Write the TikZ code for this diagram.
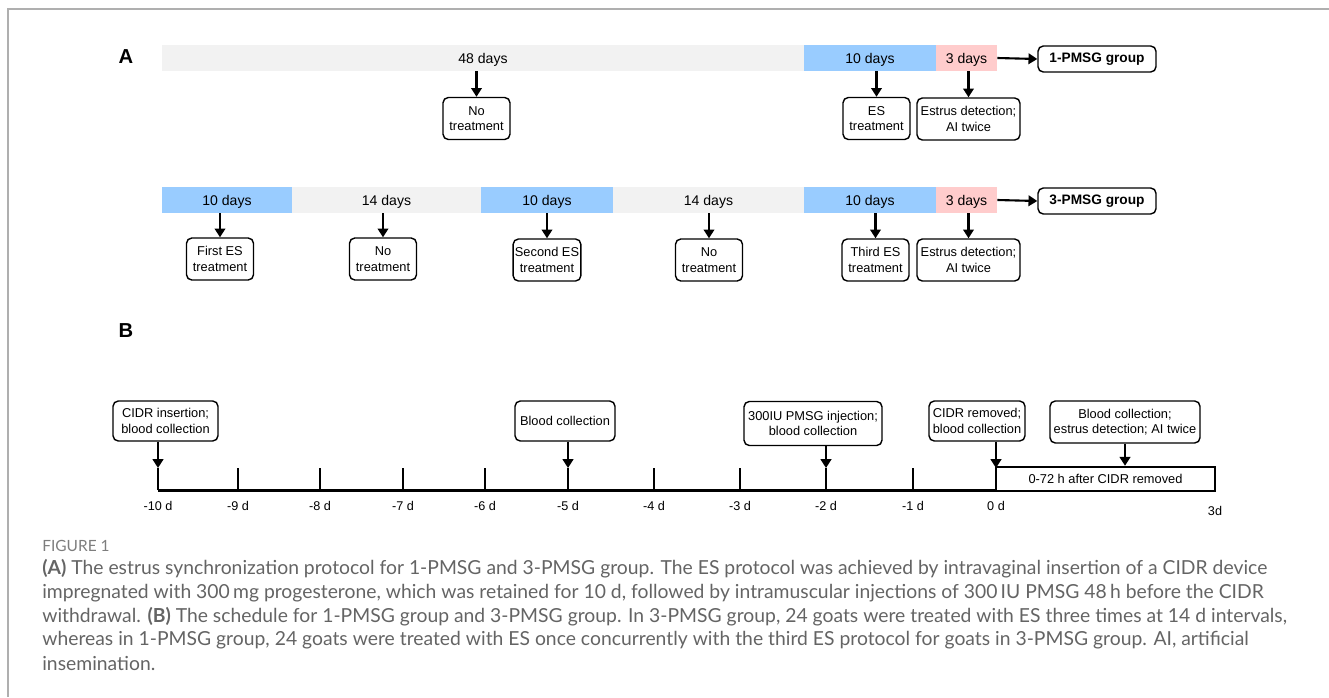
\documentclass[tikz,border=0pt]{standalone}
\usepackage{fontspec}
\setmainfont{Liberation Sans}
\newfontfamily\capfont{Lato}
\usetikzlibrary{arrows.meta}
\definecolor{bar_grey}{RGB}{242,242,242}
\definecolor{bar_blue}{RGB}{153,204,255}
\definecolor{bar_pink}{RGB}{255,204,204}
\definecolor{cap_grey}{RGB}{100,100,100}
\definecolor{fig_grey}{RGB}{125,125,125}
\definecolor{frame_grey}{RGB}{175,175,175}
\tikzstyle{gbar}=[fill=bar_grey,inner sep=0pt,minimum height=0.52cm,text depth=0pt,
  font=\fontsize{8}{9}\selectfont]
\tikzstyle{bbar}=[gbar,fill=bar_blue]
\tikzstyle{pbar}=[gbar,fill=bar_pink]
\tikzstyle{tbox}=[draw=black,rounded corners=3pt,line width=0.8pt,align=center,
  inner sep=1pt,minimum width=1.34cm,minimum height=0.84cm,
  font=\fontsize{7.3}{8.8}\selectfont]
\tikzstyle{gbox}=[tbox,minimum width=2.36cm,minimum height=0.52cm,
  font=\bfseries\fontsize{7.8}{9}\selectfont]
\tikzstyle{arr}=[-{Triangle[length=5pt,width=6pt]},line width=1.2pt]
\tikzstyle{captext}=[anchor=west,inner sep=0pt,text=cap_grey,
  font=\capfont\fontsize{11}{12}\selectfont]
\tikzstyle{none}=[]

\begin{document}
\begin{tikzpicture}[x=0.02cm, y=-0.02cm]
    \useasboundingbox (0,0) rectangle (1329,697);
    \draw [frame_grey, line width=1.1pt] (8,697) -- (8,9) -- (1329,9);
    \node [font=\bfseries\fontsize{11.5}{13}\selectfont] (a) at (126,57) {A};
    \node [font=\bfseries\fontsize{11.5}{13}\selectfont] (b) at (126,331) {B};
    % A: 1-PMSG group
    \node [style=gbar, minimum width=12.84cm] (1) at (483,58) {48 days};
    \node [style=bbar, minimum width=2.64cm] (2) at (870,58) {10 days};
    \node [style=pbar, minimum width=1.22cm] (3) at (966.5,58) {3 days};
    \node [style=gbox] (4) at (1097,59) {1-PMSG group};
    \node [style=tbox] (5) at (476.5,118.5) {No\\treatment};
    \node [style=tbox] (6) at (876.5,118.5) {ES\\treatment};
    \node [style=tbox, minimum width=2.06cm] (7) at (968.5,119) {Estrus detection;\\AI twice};
    \draw [style=arr] (3.east) to (4.west);
    \draw [style=arr] (5.north |- 1.south) to (5.north);
    \draw [style=arr] (6.north |- 2.south) to (6.north);
    \draw [style=arr] (7.north |- 3.south) to (7.north);
    % A: 3-PMSG group
    \node [style=bbar, minimum width=2.6cm] (8) at (227,200) {10 days};
    \node [style=gbar, minimum width=3.78cm] (9) at (386.5,200) {14 days};
    \node [style=bbar, minimum width=2.64cm] (10) at (547,200) {10 days};
    \node [style=gbar, minimum width=3.82cm] (11) at (708.5,200) {14 days};
    \node [style=bbar, minimum width=2.64cm] (12) at (870,200) {10 days};
    \node [style=pbar, minimum width=1.22cm] (13) at (966.5,200) {3 days};
    \node [style=gbox] (14) at (1097,201) {3-PMSG group};
    \node [style=tbox] (15) at (220,259) {First ES\\treatment};
    \node [style=tbox] (16) at (383,259) {No\\treatment};
    \node [style=tbox] (17) at (547,260) {Second ES\\treatment};
    \node [style=tbox] (18) at (709,260) {No\\treatment};
    \node [style=tbox] (19) at (875.5,260) {Third ES\\treatment};
    \node [style=tbox, minimum width=2.06cm] (20) at (968.5,260) {Estrus detection;\\AI twice};
    \draw [style=arr] (13.east) to (14.west);
    \draw [style=arr] (15.north |- 8.south) to (15.north);
    \draw [style=arr] (16.north |- 9.south) to (16.north);
    \draw [style=arr] (17.north |- 10.south) to (17.north);
    \draw [style=arr] (18.north |- 11.south) to (18.north);
    \draw [style=arr] (19.north |- 12.south) to (19.north);
    \draw [style=arr] (20.north |- 13.south) to (20.north);
    % B: time line
    \foreach \x/\d [count=\i] in {158/-10,238/-9,320/-8,403/-7,485/-6,568/-5,
                                  654/-4,740/-3,826/-2,913/-1,996/0} {
        \coordinate (t\i) at (\x,490);
        \coordinate (u\i) at (\x,468);
        \draw [line width=1.4pt] (t\i) -- (u\i);
        \node [font=\fontsize{7.2}{8}\selectfont] at (\x,506) {\d~d};
    }
    \node [draw, line width=1.4pt, inner sep=0pt, minimum width=4.38cm,
           minimum height=0.48cm, font=\fontsize{7.3}{8}\selectfont]
           (21) at (1105.5,479) {0-72 h after CIDR removed};
    \draw [line width=1.7pt] (t1) -- (t11);
    \node [font=\fontsize{7.2}{8}\selectfont] (22) at (1215,511) {3d};
    \node [style=tbox, minimum width=2.1cm, minimum height=0.8cm] (23) at (165.5,421) {CIDR insertion;\\blood collection};
    \node [style=tbox, minimum width=2.0cm, minimum height=0.8cm] (24) at (565,421) {Blood collection};
    \node [style=tbox, minimum width=2.76cm, minimum height=0.88cm] (25) at (813,423.5) {300IU PMSG injection;\\blood collection};
    \node [style=tbox, minimum width=1.92cm, minimum height=0.8cm] (26) at (977,421) {CIDR removed;\\blood collection};
    \node [style=tbox, minimum width=3.0cm, minimum height=0.84cm] (27) at (1125,422) {Blood collection;\\estrus detection; AI twice};
    \draw [style=arr] (23.south -| u1) to (u1);
    \draw [style=arr] (24.south -| u6) to (u6);
    \draw [style=arr] (25.south -| u9) to (u9);
    \draw [style=arr] (26.south -| u11) to (u11);
    \draw [style=arr] (27.south) to (27.south |- 21.north);
    % caption
    \node [style=captext, text=fig_grey, font=\capfont\fontsize{8.8}{9}\selectfont] (28) at (42,546) {FIGURE 1};
    \node [style=captext] (29) at (42,569) {\textbf{(A)} The estrus synchronization protocol for 1-PMSG and 3-PMSG group. The ES protocol was achieved by intravaginal insertion of a CIDR device};
    \node [style=captext] (30) at (42,593) {impregnated with 300\,mg progesterone, which was retained for 10 d, followed by intramuscular injections of 300\,IU PMSG 48\,h before the CIDR};
    \node [style=captext] (31) at (42,617) {withdrawal. \textbf{(B)} The schedule for 1-PMSG group and 3-PMSG group. In 3-PMSG group, 24 goats were treated with ES three times at 14 d intervals,};
    \node [style=captext] (32) at (42,640) {whereas in 1-PMSG group, 24 goats were treated with ES once concurrently with the third ES protocol for goats in 3-PMSG group. AI, artificial};
    \node [style=captext] (33) at (42,663) {insemination.};
\end{tikzpicture}
\end{document}
